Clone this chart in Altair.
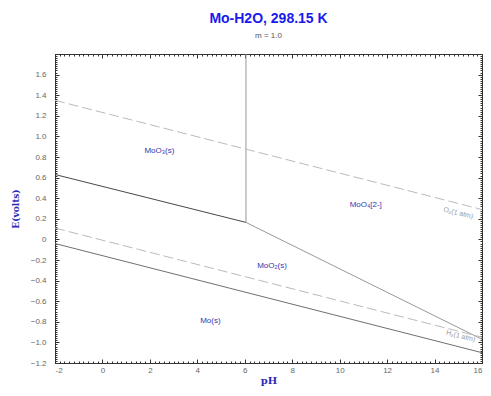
import altair as alt
import pandas as pd
import numpy as np

# Region boundary lines (pH, E)
seg_names = ["MoO3/MoO2", "MoO3/MoO2",
             "MoO3/MoO4", "MoO3/MoO4",
             "MoO2/MoO4", "MoO2/MoO4",
             "Mo/MoO2", "Mo/MoO2"]
seg_ph = [-2.0, 6.05, 6.05, 6.05, 6.05, 16.0, -2.0, 16.0]
seg_e = [0.63, 0.165, 0.165, 1.8, 0.165, -0.97, -0.04, -1.10]

# Water stability lines (dashed)
water_names = ["O2", "O2", "H2", "H2"]
water_ph = [-2.0, 16.0, -2.0, 16.0]
water_e = [1.35, 0.29, 0.11, -0.95]

# Species labels
sp_text = ["MoO₃(s)", "MoO₄[2-]", "MoO₂(s)", "Mo(s)"]
sp_ph = [2.4, 11.1, 7.15, 4.55]
sp_e = [0.86, 0.33, -0.26, -0.79]

# Water line labels
wl_text = ["O₂(1 atm)", "H₂(1 atm)"]
wl_ph = [15.0, 15.1]
wl_e = [0.255, -0.94]

x_major = list(range(-2, 17, 2))
y_major = [round(v, 1) for v in np.arange(-1.2, 1.61, 0.2)]
x_minor = [round(v, 2) for v in np.arange(-2, 16.01, 0.2)]
y_minor = [round(v, 2) for v in np.arange(-1.2, 1.801, 0.02)]

seg_df = pd.DataFrame({"seg": seg_names, "pH": seg_ph, "E": seg_e})
water_df = pd.DataFrame({"line": water_names, "pH": water_ph, "E": water_e})
sp_df = pd.DataFrame({"label": sp_text, "pH": sp_ph, "E": sp_e})
wl_df = pd.DataFrame({"label": wl_text, "pH": wl_ph, "E": wl_e})

FONT = "Liberation Sans"
xs = alt.Scale(domain=[-2, 16], nice=False, zero=False)
ys = alt.Scale(domain=[-1.2, 1.8], nice=False, zero=False)

lab_col = "#666666"

def major_axis(orient, values, labels, title=None, **kw):
    d = dict(orient=orient, values=values, labels=labels, tickSize=4, offset=-4,
             domain=False, grid=False, tickColor="#333333", tickWidth=1,
             labelFont=FONT, labelFontSize=8, labelColor=lab_col, title=title)
    d.update(kw)
    return alt.Axis(**d)

def minor_axis(orient, values):
    return alt.Axis(orient=orient, values=values, labels=False, tickSize=2, offset=-2,
                    domain=False, grid=False, tickColor="#333333", tickWidth=1, title=None)

lines = alt.Chart(seg_df).mark_line(strokeWidth=1).encode(
    x=alt.X("pH:Q", scale=xs, axis=major_axis(
        "bottom", x_major, True, "pH", labelPadding=3,
        titleFont="DejaVu Serif", titleFontSize=10, titleFontWeight="bold",
        titleColor="#2b2bb8", titlePadding=1,
        labelExpr="datum.value")),
    y=alt.Y("E:Q", scale=ys, axis=major_axis(
        "left", y_major, True, "E(volts)", labelPadding=9,
        titleFont="DejaVu Serif", titleFontSize=9, titleFontWeight="bold",
        titleColor="#2b2bb8", titlePadding=10,
        labelExpr="datum.value == 0 ? '0' : format(datum.value, '.1f')")),
    detail="seg:N",
    color=alt.Color("seg:N", legend=None, scale=alt.Scale(
        domain=["MoO3/MoO2", "MoO3/MoO4", "MoO2/MoO4", "Mo/MoO2"],
        range=["#484848", "#999999", "#999999", "#707070"])),
)

water = alt.Chart(water_df).mark_line(strokeWidth=1, strokeDash=[10, 4], color="#bbbbbb").encode(
    x=alt.X("pH:Q", scale=xs, axis=major_axis("top", x_major, False)),
    y=alt.Y("E:Q", scale=ys, axis=major_axis("right", y_major, False)),
    detail="line:N",
)

species = alt.Chart(sp_df).mark_text(font=FONT, fontSize=8, color="#3535b0").encode(
    x=alt.X("pH:Q", scale=xs, axis=minor_axis("bottom", x_minor)),
    y=alt.Y("E:Q", scale=ys, axis=minor_axis("left", y_minor)),
    text="label:N",
)

wlabels = alt.Chart(wl_df).mark_text(font=FONT, fontSize=7, color="#999999", angle=14).encode(
    x=alt.X("pH:Q", scale=xs, axis=minor_axis("top", x_minor)),
    y=alt.Y("E:Q", scale=ys, axis=minor_axis("right", y_minor)),
    text="label:N",
)

chart = alt.layer(lines, water, species, wlabels).resolve_axis(
    x="independent", y="independent"
).properties(
    width=427, height=309,
    autosize=alt.AutoSizeParams(type="none"),
    padding={"left": 47, "top": 46, "right": 1, "bottom": 24},
    title=alt.TitleParams(
        text="Mo-H2O, 298.15 K", subtitle="m = 1.0",
        font=FONT, fontSize=14, fontWeight="bold", color="#1a1aee",
        subtitleFont=FONT, subtitleFontSize=8, subtitleColor="#555555",
        subtitlePadding=6, anchor="middle", offset=12,
    ),
).configure_view(stroke="#333333", strokeWidth=1)

chart.save("out.html", embed_options={"renderer": "svg", "actions": False})
